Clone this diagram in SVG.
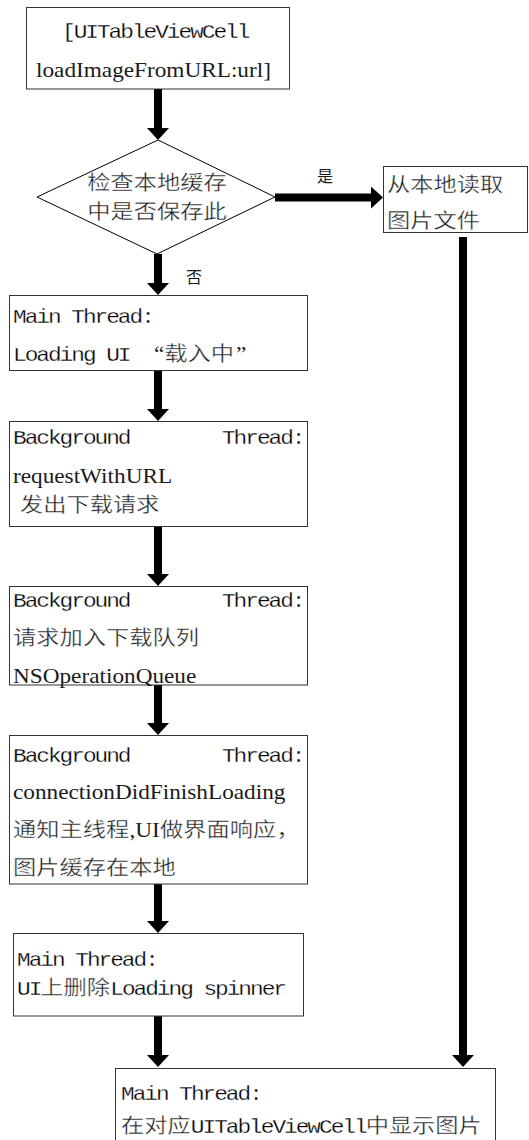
<svg xmlns="http://www.w3.org/2000/svg" width="529" height="1140" viewBox="0 0 529 1140">
<defs>
<style>
.box{fill:#fff;stroke:#333;stroke-width:1}
.m{font-family:"Liberation Mono",monospace;font-size:20px;letter-spacing:-1.78px;fill:#000;stroke:#fff;stroke-width:0.25px}
.c{font-family:"Noto Sans CJK SC",sans-serif;font-size:20.4px;stroke:#fff;stroke-width:0.35px}
.t{font-family:"Liberation Serif",serif;font-size:20.4px}
text{fill:#1a1a1a}
.lbl{font-family:"Noto Sans CJK SC",sans-serif;font-size:16px}
.conn{stroke:#000;stroke-width:8;fill:none;marker-end:url(#ah)}
</style>
<marker id="ah" markerUnits="userSpaceOnUse" markerWidth="12" markerHeight="22" viewBox="0 0 12 22" refX="2" refY="11" orient="auto">
<path d="M0,0L12,11L0,22Z" fill="#000"/>
</marker>
</defs>
<rect width="529" height="1140" fill="#fff"/>

<g id="connectors">
<line class="conn" x1="158" y1="89" x2="158" y2="130"/>
<line class="conn" x1="158" y1="254" x2="158" y2="285"/>
<line class="conn" x1="158" y1="370" x2="158" y2="411"/>
<line class="conn" x1="158" y1="526" x2="158" y2="576"/>
<line class="conn" x1="158" y1="685" x2="158" y2="725"/>
<line class="conn" x1="158" y1="884" x2="158" y2="923"/>
<line class="conn" x1="158" y1="1016" x2="158" y2="1057"/>
<line class="conn" x1="463" y1="237" x2="463" y2="1057"/>
<line class="conn" x1="275" y1="197.5" x2="373" y2="197.5"/>
<text class="lbl" x="317" y="182">是</text>
<text class="lbl" x="186" y="283">否</text>
</g>

<g id="n1">
<rect class="box" x="26.5" y="7.5" width="263" height="81.5"/>
<text transform="matrix(1.14 0 0 1 62 38)" class="m">[UITableViewCell</text>
<text transform="matrix(1.14 0 0 1 36 77)" class="t">loadImageFromURL:url]</text>
</g>

<g id="n2">
<polygon points="158,140 275,197 157,254 37,197" fill="#fff" stroke="#000" stroke-width="1"/>
<text transform="matrix(1.14 0 0 1 157 190)" class="c" text-anchor="middle">检查本地缓存</text>
<text transform="matrix(1.14 0 0 1 157 219)" class="c" text-anchor="middle">中是否保存此</text>
</g>

<g id="n3">
<rect class="box" x="383.5" y="166.5" width="144" height="66"/>
<text transform="matrix(1.14 0 0 1 387 192)" class="c">从本地读取</text>
<text transform="matrix(1.14 0 0 1 387 228)" class="c">图片文件</text>
</g>

<g id="n4">
<rect class="box" x="9.5" y="295.5" width="298" height="75"/>
<text transform="matrix(1.14 0 0 1 13 323)" class="m">Main Thread:</text>
<text transform="matrix(1.14 0 0 1 13 361)"><tspan class="m" x="0">Loading UI</tspan><tspan class="t" x="123.7">“</tspan><tspan class="c" x="132.7">载入中</tspan><tspan class="t" x="195.6">”</tspan></text>
</g>

<g id="n5">
<rect class="box" x="9.5" y="421.5" width="298" height="105"/>
<text transform="matrix(1.14 0 0 1 13 444)"><tspan class="m" x="0">Background</tspan><tspan class="m" x="183.3">Thread:</tspan></text>
<text transform="matrix(1.14 0 0 1 13 483)" class="t">requestWithURL</text>
<text transform="matrix(1.14 0 0 1 20 512)" class="c">发出下载请求</text>
</g>

<g id="n6">
<rect class="box" x="9.5" y="586.5" width="298" height="98.5"/>
<text transform="matrix(1.14 0 0 1 13 607)"><tspan class="m" x="0">Background</tspan><tspan class="m" x="183.3">Thread:</tspan></text>
<text transform="matrix(1.14 0 0 1 13 645)" class="c">请求加入下载队列</text>
<text transform="matrix(1.14 0 0 1 13 683)" class="t">NSOperationQueue</text>
</g>

<g id="n7">
<rect class="box" x="9.5" y="735.5" width="298" height="148.5"/>
<text transform="matrix(1.14 0 0 1 13 762)"><tspan class="m" x="0">Background</tspan><tspan class="m" x="183.3">Thread:</tspan></text>
<text transform="matrix(1.14 0 0 1 13 799)" class="t">connectionDidFinishLoading</text>
<text transform="matrix(1.14 0 0 1 13 837)"><tspan class="c" x="0">通知主线程</tspan><tspan class="t" x="102.2">,UI</tspan><tspan class="c" x="128.9">做界面响应，</tspan></text>
<text transform="matrix(1.14 0 0 1 13 875)" class="c">图片缓存在本地</text>
</g>

<g id="n8">
<rect class="box" x="13.5" y="933.5" width="290" height="82.5"/>
<text transform="matrix(1.14 0 0 1 17 966)" class="m">Main Thread:</text>
<text transform="matrix(1.14 0 0 1 17 995)"><tspan class="m" x="0">UI</tspan><tspan class="c" x="20.4">上删除</tspan><tspan class="m" x="81.8">Loading spinner</tspan></text>
</g>

<g id="n9">
<rect class="box" x="115.5" y="1068.5" width="380" height="80"/>
<text transform="matrix(1.14 0 0 1 121 1100)" class="m">Main Thread:</text>
<text transform="matrix(1.14 0 0 1 121 1133)"><tspan class="c" x="0">在对应</tspan><tspan class="m" x="61.3">UITableViewCell</tspan><tspan class="c" x="214.6">中显示图片</tspan></text>
</g>
</svg>
